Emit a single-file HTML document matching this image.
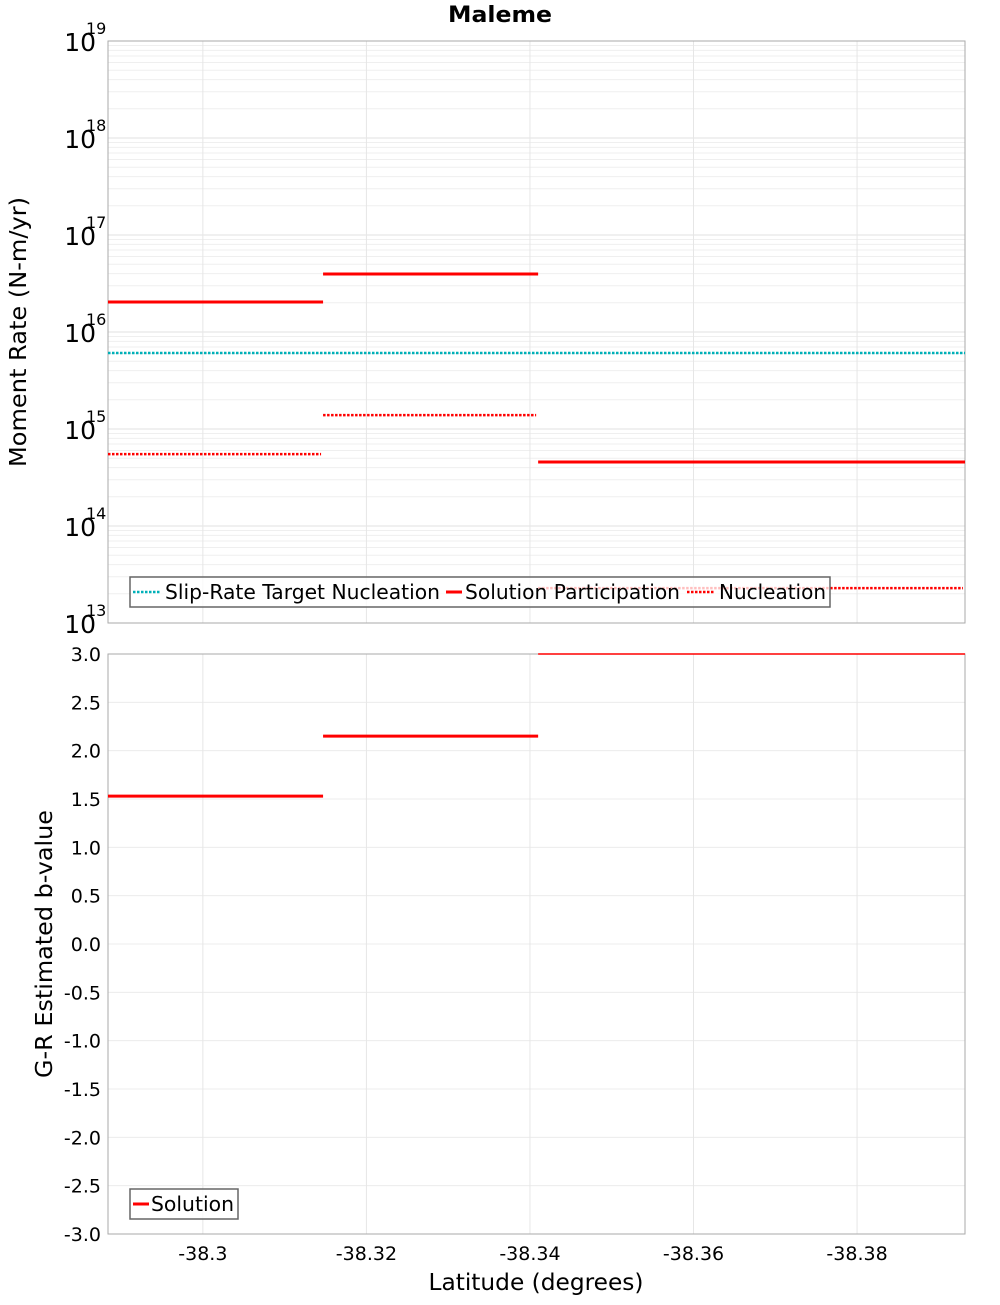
<!DOCTYPE html>
<html><head><meta charset="utf-8"><style>
body{margin:0;background:#fff;}
svg text{font-family:"DejaVu Sans","Liberation Sans",sans-serif;}
</style></head><body>
<svg id="c" width="1000" height="1300" xmlns="http://www.w3.org/2000/svg"></svg>
<script>
const segStart=[-38.2884,-38.3147,-38.3410];
const segEnd=[-38.3147,-38.3410,-38.3932];
const participation=[2.04e16,3.96e16,4.57e14];
const nucleation=[5.5e14,1.39e15,2.29e13];
const targetNucleation=[6.08e15];
const bValues=[1.53,2.15,3.0];
const xTicks=[-38.3,-38.32,-38.34,-38.36,-38.38];
const xTickLabels=["-38.3","-38.32","-38.34","-38.36","-38.38"];
const logTicks=[13,14,15,16,17,18,19];
const bTicks=[-3,-2.5,-2,-1.5,-1,-0.5,0,0.5,1,1.5,2,2.5,3];

const NS="http://www.w3.org/2000/svg";
const svg=document.getElementById('c');
const L=108,R=965,T1=41,B1=623,T2=654,B2=1234;
const xMin=-38.2884,xMax=-38.3932;
const X=v=>L+(v-xMin)/(xMax-xMin)*(R-L);
const Y1=v=>B1-(Math.log10(v)-13)/6*(B1-T1);
const Y2=v=>B2-(v+3)/6*(B2-T2);
function el(t,a,p){const e=document.createElementNS(NS,t);for(const k in a)e.setAttribute(k,a[k]);(p||svg).appendChild(e);return e;}
function txt(s,a,name){const e=el('text',a);e.textContent=s;return e;}

txt("Maleme",{x:500,y:22,'text-anchor':'middle','font-size':22,'font-weight':'bold',textLength:104,lengthAdjust:'spacingAndGlyphs'},'chart-title');

let g=el('g',{});


el('rect',{x:L,y:T1,width:R-L,height:B1-T1,fill:'#fff'},g);
for(let d=13;d<19;d++)for(let m=1;m<10;m++){const y=Y1(m*Math.pow(10,d));el('line',{x1:L,x2:R,y1:y,y2:y,stroke:m==1?'#e2e2e2':'#efefef','stroke-width':1},g);}
xTicks.forEach(v=>{el('line',{x1:X(v),x2:X(v),y1:T1,y2:B1,stroke:'#e6e6e6'},g);});
el('rect',{x:L,y:T1,width:R-L,height:B1-T1,fill:'none',stroke:'#aaa'},g);
logTicks.forEach(d=>{const y=Y1(Math.pow(10,d));
 txt("10",{x:96,y:y+10,'text-anchor':'end','font-size':25},'y-tick-label');
 txt(String(d),{x:86,y:y-7,'font-size':16},'y-tick-exponent');});
txt("Moment Rate (N-m/yr)",{x:0,y:0,transform:'translate(26,332) rotate(-90)','text-anchor':'middle','font-size':23,textLength:270,lengthAdjust:'spacingAndGlyphs'},'y-axis-title-top');
const tgt=el('line',{x1:X(xMin),x2:X(xMax),y1:Y1(targetNucleation[0]),y2:Y1(targetNucleation[0]),stroke:'#00b0b8','stroke-width':2.5,'stroke-dasharray':'2.5,1.5'},g);

segStart.forEach((s,i)=>{
 const p=el('line',{x1:X(s),x2:X(segEnd[i]),y1:Y1(participation[i]),y2:Y1(participation[i]),stroke:'#f00','stroke-width':3},g);
 
 const n=el('line',{x1:X(s),x2:X(segEnd[i])-2,y1:Y1(nucleation[i]),y2:Y1(nucleation[i]),stroke:'#f00','stroke-width':2.5,'stroke-dasharray':'2.5,1.5'},g);
 
});
const lg=el('g',{});


el('rect',{x:130,y:577,width:700,height:30,fill:'rgba(255,255,255,0.75)',stroke:'#666','stroke-width':1.5},lg);
el('line',{x1:133,x2:160,y1:592,y2:592,stroke:'#00b0b8','stroke-width':2.5,'stroke-dasharray':'2.5,1.5'},lg);
txt("Slip-Rate Target Nucleation",{x:165,y:599,'font-size':20,textLength:275,lengthAdjust:'spacingAndGlyphs'},'legend-entry');
el('line',{x1:446,x2:462,y1:592,y2:592,stroke:'#f00','stroke-width':3},lg);
txt("Solution Participation",{x:465,y:599,'font-size':20,textLength:215,lengthAdjust:'spacingAndGlyphs'},'legend-entry');
el('line',{x1:687,x2:715,y1:592,y2:592,stroke:'#f00','stroke-width':2.5,'stroke-dasharray':'2.5,1.5'},lg);
txt("Nucleation",{x:719,y:599,'font-size':20,textLength:107,lengthAdjust:'spacingAndGlyphs'},'legend-entry');

const g2=el('g',{});


bTicks.forEach(v=>{const y=Y2(v);el('line',{x1:L,x2:R,y1:y,y2:y,stroke:'#ececec'},g2);
 txt(v.toFixed(1),{x:101,y:y+7,'text-anchor':'end','font-size':19},'y-tick-label');});
xTicks.forEach((v,i)=>{el('line',{x1:X(v),x2:X(v),y1:T2,y2:B2,stroke:'#e6e6e6'},g2);
 txt(xTickLabels[i],{x:X(v),y:1260,'text-anchor':'middle','font-size':19},'x-tick-label');});
el('rect',{x:L,y:T2,width:R-L,height:B2-T2,fill:'none',stroke:'#aaa'},g2);
segStart.forEach((s,i)=>{
 const b=el('line',{x1:X(s),x2:X(segEnd[i]),y1:Y2(bValues[i]),y2:Y2(bValues[i]),stroke:'#f00','stroke-width':bValues[i]>=3?1.5:3},g2);
 
});
txt("G-R Estimated b-value",{x:0,y:0,transform:'translate(52,944) rotate(-90)','text-anchor':'middle','font-size':23,textLength:268,lengthAdjust:'spacingAndGlyphs'},'y-axis-title-bottom');
txt("Latitude (degrees)",{x:536,y:1290,'text-anchor':'middle','font-size':23,textLength:215,lengthAdjust:'spacingAndGlyphs'},'x-axis-title');
const lg2=el('g',{});


el('rect',{x:130,y:1189,width:108,height:30,fill:'rgba(255,255,255,0.75)',stroke:'#666','stroke-width':1.5},lg2);
el('line',{x1:133,x2:149,y1:1204,y2:1204,stroke:'#f00','stroke-width':3},lg2);
txt("Solution",{x:151,y:1211,'font-size':20,textLength:83,lengthAdjust:'spacingAndGlyphs'},'legend-entry');
</script>
</body></html>
